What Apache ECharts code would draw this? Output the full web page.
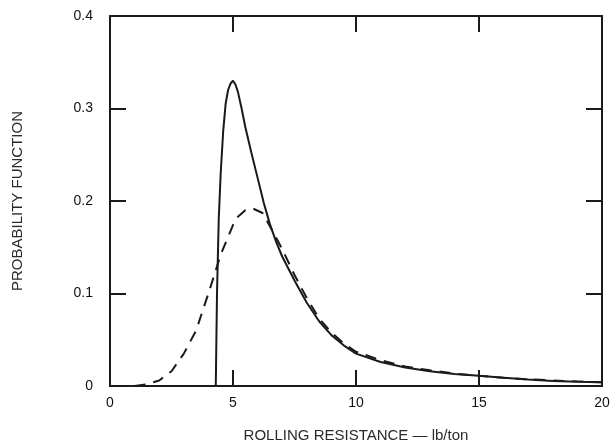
<!DOCTYPE html>
<html>
<head>
<meta charset="utf-8">
<script src="https://cdn.jsdelivr.net/npm/echarts@6/dist/echarts.min.js"></script>
<style>
html,body{margin:0;padding:0;background:#fff;}
#chart{width:614px;height:448px;}
</style>
</head>
<body>
<div id="chart"></div>
<script>
var xTicks = [0, 5, 10, 15, 20];
var yTicks = [0, 0.1, 0.2, 0.3, 0.4];
var xTitle = 'ROLLING RESISTANCE \u2014 lb/ton';
var yTitle = 'PROBABILITY FUNCTION';

var solidX = [4.3, 4.35, 4.42, 4.5, 4.6, 4.7, 4.8, 4.9, 5.0, 5.1, 5.2, 5.35, 5.5, 5.75, 6.0, 6.25, 6.5, 6.75, 7.0, 7.5, 8.0, 8.5, 9.0, 9.5, 10, 11, 12, 13, 14, 15, 16, 17, 18, 19, 20];
var solidY = [0, 0.10, 0.18, 0.23, 0.275, 0.305, 0.32, 0.327, 0.33, 0.326, 0.318, 0.3, 0.28, 0.252, 0.225, 0.198, 0.175, 0.156, 0.14, 0.114, 0.09, 0.07, 0.055, 0.044, 0.035, 0.026, 0.02, 0.016, 0.013, 0.011, 0.009, 0.007, 0.0055, 0.0045, 0.004];

var dashX = [1.0, 1.5, 2.0, 2.5, 3.0, 3.5, 4.0, 4.5, 5.0, 5.2, 5.5, 5.8, 6.2, 6.6, 7.0, 7.5, 8.0, 8.5, 9.0, 9.5, 10, 11, 12, 13, 14, 15, 16, 17, 18, 19, 20];
var dashY = [0, 0.002, 0.006, 0.016, 0.035, 0.06, 0.1, 0.142, 0.174, 0.183, 0.19, 0.192, 0.187, 0.168, 0.148, 0.12, 0.095, 0.073, 0.058, 0.046, 0.037, 0.028, 0.021, 0.017, 0.0135, 0.011, 0.009, 0.0072, 0.006, 0.005, 0.004];

function zip(a, b) { return a.map(function (v, i) { return [v, b[i]]; }); }

var ink = '#1a1a1a';
var font = '"Liberation Sans", Arial, Helvetica, sans-serif';

var chart = echarts.init(document.getElementById('chart'));
function axisBase(ticks) {
  return {
    type: 'value', min: ticks[0], max: ticks[ticks.length - 1], interval: ticks[1] - ticks[0],
    splitLine: { show: false },
    axisLine: { show: true, onZero: false, lineStyle: { color: ink, width: 2 } },
    axisTick: { show: true, inside: true, length: 16, lineStyle: { color: ink, width: 2 } }
  };
}

chart.setOption({
  backgroundColor: '#ffffff',
  animation: false,
  grid: { left: 110, right: 12, top: 16, bottom: 55 },
  xAxis: [
    Object.assign(axisBase(xTicks), {
      position: 'bottom',
      name: xTitle, nameLocation: 'middle', nameGap: 42,
      nameTextStyle: { color: '#2a2a2a', fontFamily: font, fontSize: 15 },
      axisLabel: { color: '#111', fontFamily: font, fontSize: 14, margin: 10 }
    }),
    Object.assign(axisBase(xTicks), { position: 'top', axisLabel: { show: false } })
  ],
  yAxis: [
    Object.assign(axisBase(yTicks), {
      position: 'left',
      name: yTitle, nameLocation: 'middle', nameGap: 85, nameRotate: 90,
      nameTextStyle: { color: '#2a2a2a', fontFamily: font, fontSize: 15 },
      axisLabel: { color: '#111', fontFamily: font, fontSize: 14, margin: 17 }
    }),
    Object.assign(axisBase(yTicks), { position: 'right', axisLabel: { show: false } })
  ],
  series: [
    {
      type: 'line', xAxisIndex: 0, yAxisIndex: 0, data: zip(solidX, solidY), showSymbol: false, symbol: 'none',
      lineStyle: { color: ink, width: 2, type: 'solid' }, z: 3
    },
    {
      type: 'line', xAxisIndex: 0, yAxisIndex: 0, data: zip(dashX, dashY), showSymbol: false, symbol: 'none',
      lineStyle: { color: ink, width: 2, type: [11, 8] }, z: 2
    }
  ]
});
</script>
</body>
</html>
